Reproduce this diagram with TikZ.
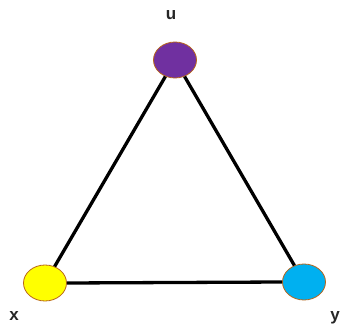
\documentclass[tikz,border=0pt]{standalone}
\usepackage{fontspec}
\setmainfont{Liberation Sans}
\usetikzlibrary{shapes.geometric}
\definecolor{vpurple}{HTML}{7030A0}
\definecolor{vyellow}{HTML}{FFFF00}
\definecolor{vcyan}{HTML}{00B0F0}
\definecolor{vborder}{HTML}{B8651B}
\begin{document}
\begin{tikzpicture}[x=1pt,y=-1pt,
  vertex/.style={ellipse, draw=vborder, line width=0.8pt, minimum width=43pt, minimum height=36pt, inner sep=0pt},
  lbl/.style={font=\fontsize{17}{19}\selectfont\bfseries, text=black!85, inner sep=0pt},
  edge/.style={line width=3.3pt, black}]
\useasboundingbox (0,0) rectangle (341,327);
\node[vertex, fill=vpurple] (u) at (175,60) {};
\node[vertex, fill=vyellow] (x) at (45,283) {};
\node[vertex, fill=vcyan] (y) at (304,282) {};
\node[lbl] (lu) at (171,15) {u};
\node[lbl] (lx) at (14,316) {x};
\node[lbl] (ly) at (335,318) {y};
\draw[edge] (u) -- (x);
\draw[edge] (u) -- (y);
\draw[edge] (x.east) -- (y.west);
\end{tikzpicture}
\end{document}
